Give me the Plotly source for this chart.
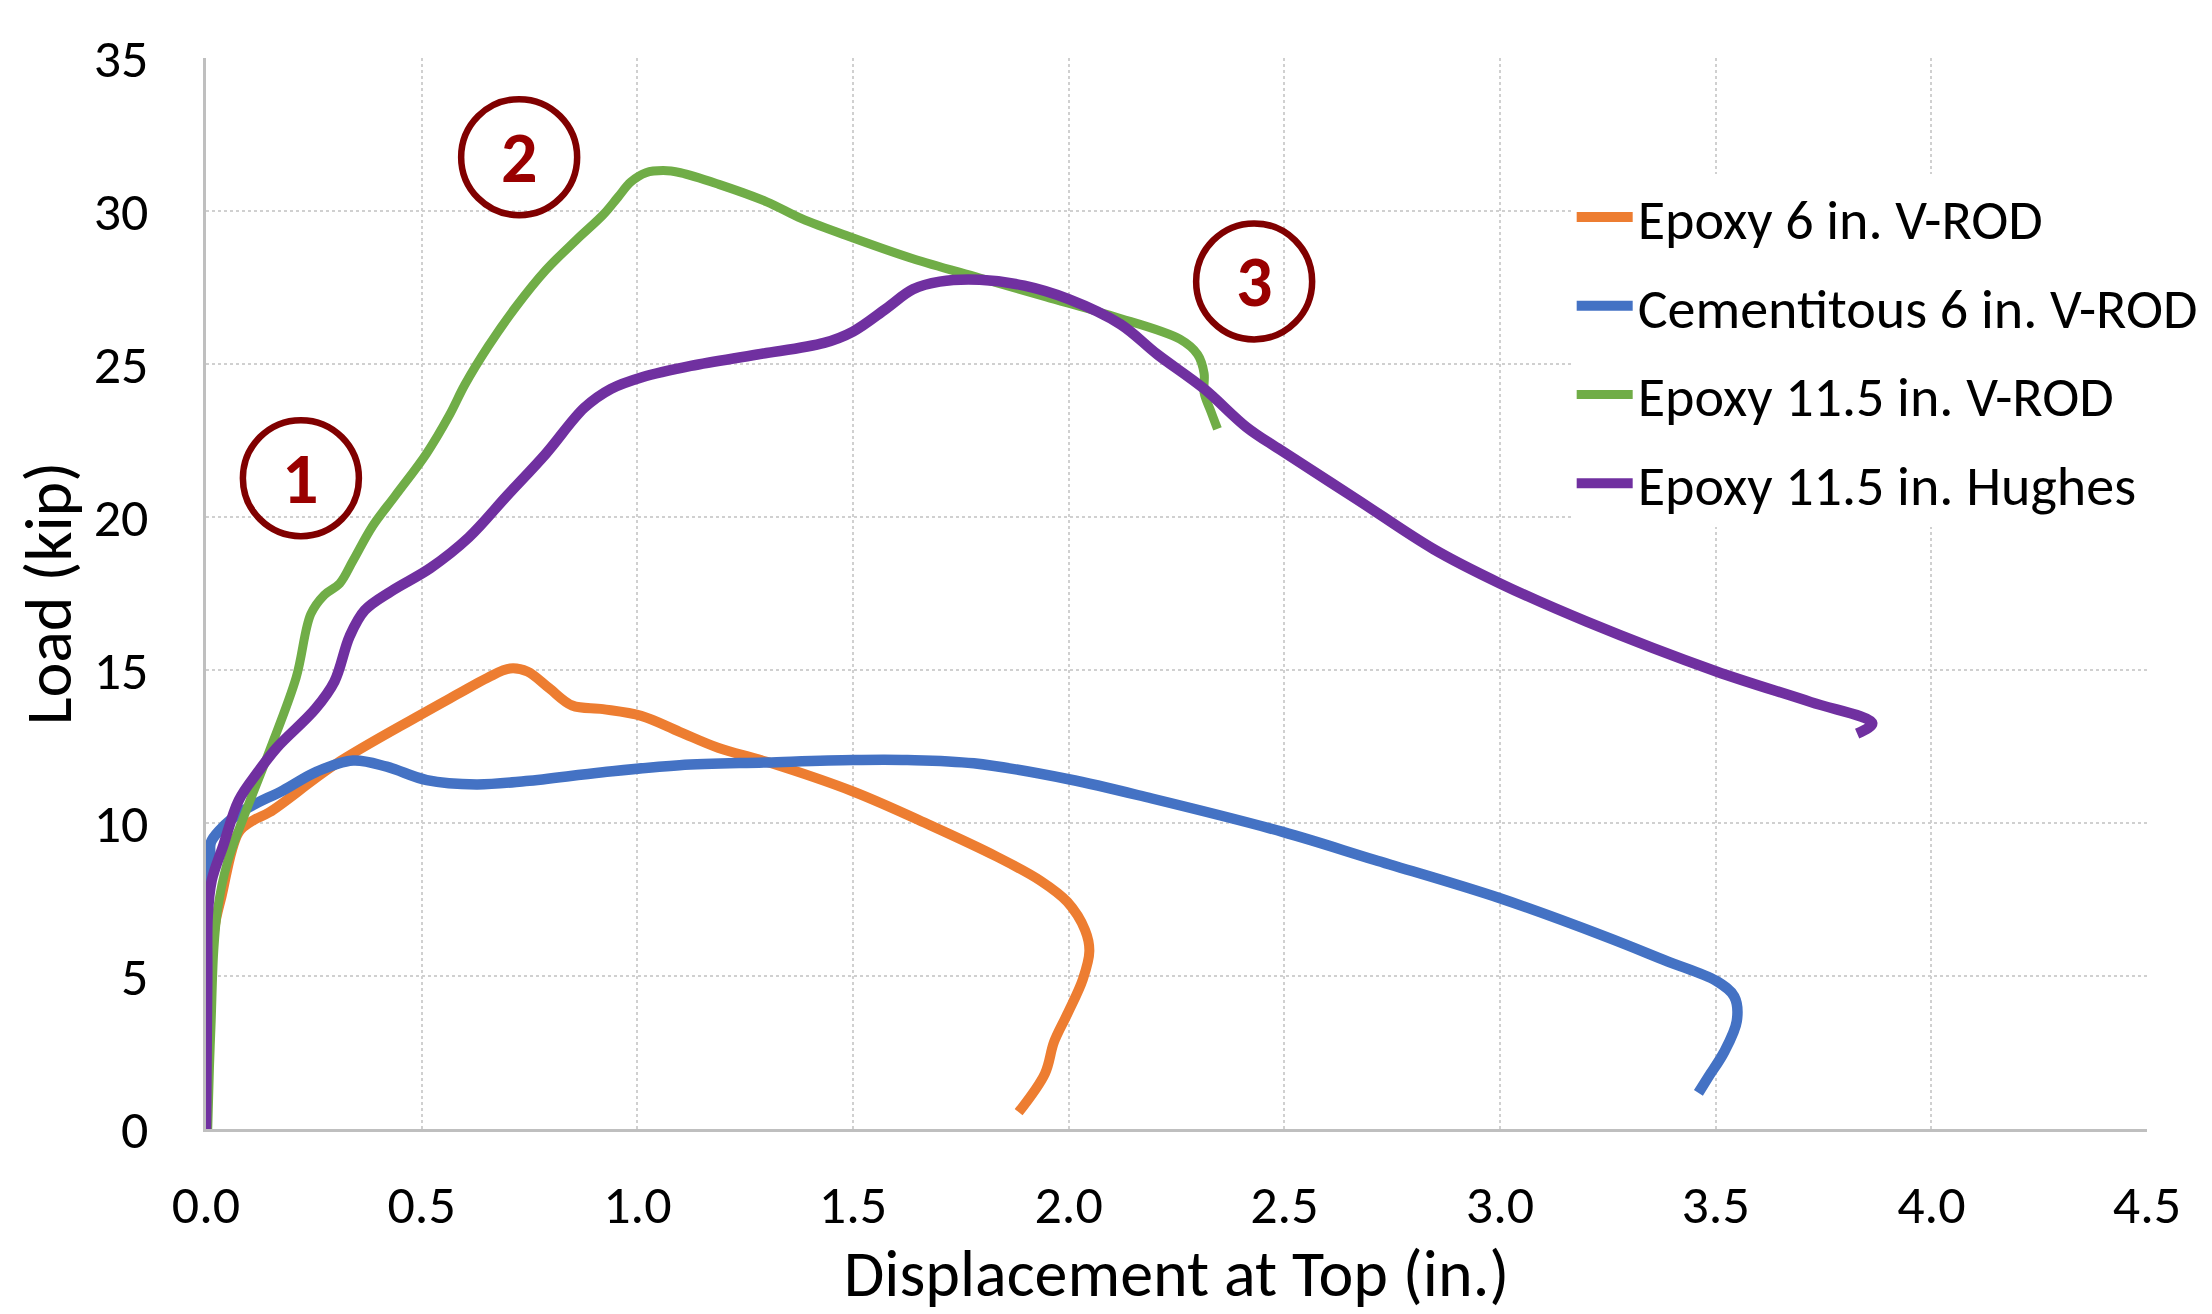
import plotly.graph_objects as go

# ---- data (displacement in., load kip) ----
series_names = ["Epoxy 6 in. V-ROD", "Cementitous 6 in. V-ROD",
                "Epoxy 11.5 in. V-ROD", "Epoxy 11.5 in. Hughes"]
series_colors = ["#ED7D31", "#4472C4", "#70AD47", "#7030A0"]

epoxy6_x = [0.0, 0.005, 0.02, 0.036, 0.076, 0.111, 0.147, 0.298, 0.493, 0.582, 0.653, 0.705,
            0.745, 0.796, 0.849, 0.92, 1.009, 1.098, 1.187, 1.3, 1.5, 1.677, 1.832, 1.935,
            1.997, 2.038, 2.048, 2.033, 1.997, 1.966, 1.945, 1.884]
epoxy6_y = [0.0, 4.0, 6.6, 7.6, 9.7, 10.1, 10.35, 11.9, 13.5, 14.2, 14.75, 15.05,
            14.95, 14.4, 13.84, 13.72, 13.5, 12.98, 12.46, 12.0, 11.03, 9.94, 8.91, 8.11,
            7.42, 6.5, 5.82, 4.9, 3.76, 2.84, 1.81, 0.55]

cem6_x = [0.0, 0.003, 0.012, 0.011, 0.032, 0.086, 0.179, 0.257, 0.341, 0.419, 0.512, 0.627,
          0.742, 0.92, 1.098, 1.3, 1.5, 1.626, 1.78, 2.0, 2.193, 2.496, 2.708, 3.0, 3.246,
          3.388, 3.5, 3.543, 3.549, 3.519, 3.483, 3.46]
cem6_y = [0.0, 7.5, 8.6, 9.35, 9.77, 10.4, 11.07, 11.68, 12.04, 11.84, 11.4, 11.26,
          11.37, 11.66, 11.89, 11.98, 12.06, 12.06, 11.95, 11.43, 10.8, 9.71, 8.8, 7.54, 6.28,
          5.48, 4.85, 4.33, 3.53, 2.5, 1.7, 1.18]

epoxy115_x = [0.004, 0.008, 0.012, 0.018, 0.027, 0.049, 0.093, 0.147, 0.209, 0.243, 0.274,
              0.31, 0.341, 0.386, 0.439, 0.511, 0.564, 0.6, 0.654, 0.716, 0.788, 0.859, 0.921,
              0.955, 0.985, 1.02, 1.06, 1.1, 1.189, 1.3, 1.381, 1.5, 1.639, 1.794, 1.948, 2.103,
              2.258, 2.299, 2.314, 2.314, 2.33, 2.345]
epoxy115_y = [0.0, 2.0, 3.53, 5.82, 7.19, 8.68, 10.4, 12.35, 14.75, 16.83, 17.45,
              17.83, 18.58, 19.7, 20.7, 22.07, 23.32, 24.32, 25.57, 26.82, 28.07, 29.06, 29.88,
              30.45, 30.95, 31.25, 31.32, 31.25, 30.87, 30.3, 29.75, 29.12, 28.44, 27.81, 27.19,
              26.56, 25.81, 25.31, 24.69, 24.06, 23.44, 22.88]

hughes_x = [0.0, 0.003, 0.004, 0.013, 0.04, 0.076, 0.12, 0.164, 0.253, 0.298, 0.333, 0.368,
            0.43, 0.52, 0.609, 0.698, 0.788, 0.877, 0.939, 1.011, 1.124, 1.278, 1.433, 1.5,
            1.577, 1.639, 1.701, 1.794, 1.897, 2.0, 2.12, 2.206, 2.314, 2.412, 2.491, 2.669,
            2.846, 3.0, 3.201, 3.5, 3.721, 3.863, 3.828]
hughes_y = [0.0, 5.0, 6.96, 8.11, 9.26, 10.74, 11.66, 12.46, 13.72, 14.63, 16.1, 16.95,
            17.58, 18.33, 19.33, 20.7, 22.07, 23.57, 24.19, 24.57, 24.94, 25.31, 25.69, 26.06,
            26.81, 27.44, 27.69, 27.75, 27.56, 27.12, 26.3, 25.31, 24.19, 22.94, 22.19, 20.57,
            18.95, 17.83, 16.58, 14.96, 13.95, 13.26, 12.92]

series_x = [epoxy6_x, cem6_x, epoxy115_x, hughes_x]
series_y = [epoxy6_y, cem6_y, epoxy115_y, hughes_y]
series_widths = [10, 10.5, 9, 10.5]

x_ticks = [0.0, 0.5, 1.0, 1.5, 2.0, 2.5, 3.0, 3.5, 4.0, 4.5]
y_ticks = [0, 5, 10, 15, 20, 25, 30, 35]

marker_labels = ["1", "2", "3"]
marker_x = [0.22, 0.726, 2.43]
marker_y = [21.27, 31.76, 27.7]

FONT = "Carlito, Calibri, Lato, sans-serif"

fig = go.Figure()
for name, col, xs, ys, w in zip(series_names, series_colors, series_x, series_y, series_widths):
    fig.add_trace(go.Scatter(
        x=xs, y=ys, mode="lines", name=name, legendgroup=name,
        line=dict(color=col, width=w, shape="spline", smoothing=1.0),
        hoverinfo="skip",
    ))

for lab, cx, cy in zip(marker_labels, marker_x, marker_y):
    fig.add_shape(type="circle", xref="x", yref="y", xsizemode="pixel", ysizemode="pixel",
                  xanchor=cx, yanchor=cy, x0=-58, x1=58, y0=-58, y1=58,
                  line=dict(color="#800000", width=6.5), fillcolor="rgba(0,0,0,0)")
    fig.add_annotation(x=cx, y=cy, xref="x", yref="y", text="<b>" + lab + "</b>",
                       showarrow=False, font=dict(family=FONT, size=72, color="#990000"))

axis_common = dict(
    showline=True, linecolor="#bfbfbf", linewidth=2.5,
    showgrid=True, gridcolor="#d0d0d0", gridwidth=2, griddash="dot",
    zeroline=False, ticks="", tickfont=dict(family=FONT, size=54, color="black"),
)

fig.update_xaxes(range=[0, 4.5], tickvals=x_ticks, ticktext=[f"{v:.1f}" for v in x_ticks],
                 ticklabelstandoff=26,
                 title=dict(text="Displacement at Top (in.)", font=dict(family=FONT, size=66, color="black"),
                            standoff=34),
                 **axis_common)
fig.update_yaxes(range=[0, 35], tickvals=y_ticks, ticktext=[str(v) for v in y_ticks],
                 ticklabelstandoff=44,
                 title=dict(text="Load (kip)", font=dict(family=FONT, size=66, color="black"),
                            standoff=18),
                 **axis_common)

# page body has an 8px margin; size the figure so the plot area lands where the reference has it
fig.update_layout(
    width=2204, height=1306,
    margin=dict(l=198, r=65, t=50, b=185, autoexpand=False),
    paper_bgcolor="white", plot_bgcolor="white",
    font=dict(family=FONT, color="black"),
    showlegend=True,
    legend=dict(x=0.7036, y=0.8917, xanchor="left", yanchor="top", bgcolor="white",
                font=dict(family=FONT, size=56, color="black"),
                itemwidth=56, tracegroupgap=13, traceorder="grouped",
                borderwidth=0),
)

fig.write_html("out.html")
